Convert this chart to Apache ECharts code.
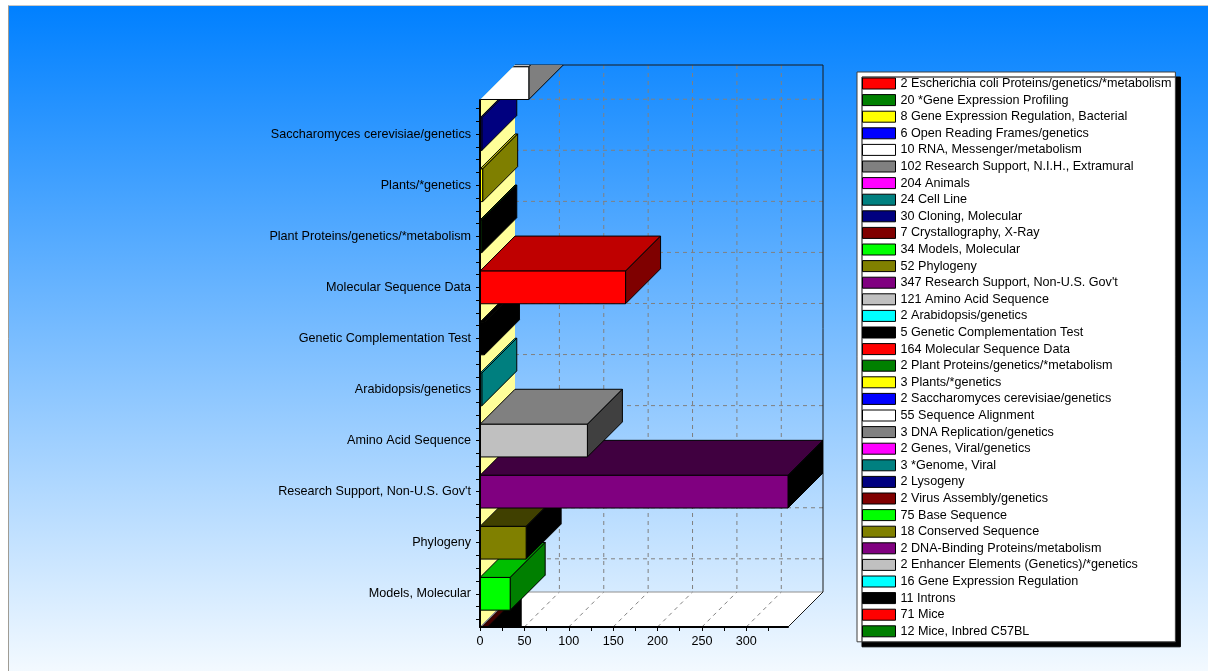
<!DOCTYPE html>
<html>
<head>
<meta charset="utf-8">
<script src="https://cdn.jsdelivr.net/npm/echarts@6/dist/echarts.min.js"></script>
<style>
  html, body { margin: 0; padding: 0; background: #ffffff; }
  #chart { width: 1208px; height: 671px; }
</style>
</head>
<body>
<div id="chart"></div>
<script>
// MeSH terms and their citation counts, in plotting order (bottom to top)
const CATEGORIES = [
  'Escherichia coli Proteins/genetics/*metabolism',
  '*Gene Expression Profiling',
  'Gene Expression Regulation, Bacterial',
  'Open Reading Frames/genetics',
  'RNA, Messenger/metabolism',
  'Research Support, N.I.H., Extramural',
  'Animals',
  'Cell Line',
  'Cloning, Molecular',
  'Crystallography, X-Ray',
  'Models, Molecular',
  'Phylogeny',
  "Research Support, Non-U.S. Gov't",
  'Amino Acid Sequence',
  'Arabidopsis/genetics',
  'Genetic Complementation Test',
  'Molecular Sequence Data',
  'Plant Proteins/genetics/*metabolism',
  'Plants/*genetics',
  'Saccharomyces cerevisiae/genetics',
  'Sequence Alignment',
  'DNA Replication/genetics',
  'Genes, Viral/genetics',
  '*Genome, Viral',
  'Lysogeny',
  'Virus Assembly/genetics',
  'Base Sequence',
  'Conserved Sequence',
  'DNA-Binding Proteins/metabolism',
  'Enhancer Elements (Genetics)/*genetics',
  'Gene Expression Regulation',
  'Introns',
  'Mice',
  'Mice, Inbred C57BL'
];
const VALUES = [2, 20, 8, 6, 10, 102, 204, 24, 30, 7, 34, 52, 347, 121, 2, 5, 164, 2, 3, 2,
                55, 3, 2, 3, 2, 2, 75, 18, 2, 2, 16, 11, 71, 12];
const X_LABELS = [0, 50, 100, 150, 200, 250, 300];

// 16-colour palette, cycled through the series
const PALETTE = ['#ff0000', '#008000', '#ffff00', '#0000ff', '#ffffff', '#808080', '#ff00ff', '#008080',
                 '#000080', '#800000', '#00ff00', '#808000', '#800080', '#c0c0c0', '#00ffff', '#000000'];

// axis window and 3D look
const X_MAX = 347;
const Y_MIN = 9.35, Y_MAX = 19.67;
const DEPTH = 35;        // projected depth offset in px (up and right)
const HALF_BAR = 0.32;   // half bar thickness in category units
const FONT = 'Liberation Sans, Arial, sans-serif';
const FONT_SIZE = 12.6;

function shade(hex, amt) {
  const n = parseInt(hex.slice(1), 16);
  const r = Math.max(0, ((n >> 16) & 255) - amt);
  const g = Math.max(0, ((n >> 8) & 255) - amt);
  const b = Math.max(0, (n & 255) - amt);
  return 'rgb(' + r + ',' + g + ',' + b + ')';
}

const valueByName = {};
CATEGORIES.forEach((c, i) => { valueByName[c] = VALUES[i]; });

function box(api) {
  const a = api.coord([0, Y_MIN]);
  const b = api.coord([X_MAX, Y_MAX]);
  return { x0: a[0], yb: a[1], x1: b[0], yt: b[1] };
}

function boxClip(api) {
  const b = box(api), D = DEPTH;
  return [[b.x0, b.yt], [b.x0 + D, b.yt - D], [b.x1 + D, b.yt - D],
          [b.x1 + D, b.yb - D], [b.x1, b.yb], [b.x0, b.yb]];
}

const gridLine = { stroke: '#808080', lineWidth: 1, lineDash: [4, 4] };

// side wall, floor and back-wall grid
function renderWalls(params, api) {
  const b = box(api), D = DEPTH;
  const kids = [];
  kids.push({ type: 'polygon', shape: { points: [[b.x0, b.yt], [b.x0 + D, b.yt - D], [b.x0 + D, b.yb - D], [b.x0, b.yb]] },
              style: { fill: '#ffff99', stroke: null } });
  kids.push({ type: 'polygon', shape: { points: [[b.x0, b.yb], [b.x0 + D, b.yb - D], [b.x1 + D, b.yb - D], [b.x1, b.yb]] },
              style: { fill: '#ffffff', stroke: '#909090', lineWidth: 1 } });
  X_LABELS.forEach(v => {
    if (v === 0) return;
    const x = api.coord([v, Y_MIN])[0];
    kids.push({ type: 'line', shape: { x1: x + D, y1: b.yt - D, x2: x + D, y2: b.yb - D }, style: gridLine });
    kids.push({ type: 'line', shape: { x1: x, y1: b.yb, x2: x + D, y2: b.yb - D }, style: gridLine });
  });
  for (let k = Math.ceil(Y_MIN); k <= Math.floor(Y_MAX); k++) {
    const y = api.coord([0, k])[1];
    kids.push({ type: 'line', shape: { x1: b.x0 + D, y1: y - D, x2: b.x1 + D, y2: y - D }, style: gridLine });
  }
  kids.push({ type: 'polyline', shape: { points: [[b.x0 + D, b.yt - D], [b.x1 + D, b.yt - D], [b.x1 + D, b.yb - D], [b.x1, b.yb]] },
              style: { fill: null, stroke: '#1a1a1a', lineWidth: 1 } });
  return { type: 'group', children: kids };
}

// one 3D bar: top face, right side, front face
function renderBar(params, api) {
  const v = api.value(0), k = api.value(1), D = DEPTH;
  const pT = api.coord([0, k + HALF_BAR]);
  const pB = api.coord([v, k - HALF_BAR]);
  const xa = pT[0], yT = pT[1], xb = pB[0], yB = pB[1];
  const c = api.visual('color');
  const edge = { stroke: '#000', lineWidth: 1, lineJoin: 'miter' };
  return {
    type: 'group',
    clipPath: { type: 'polygon', shape: { points: boxClip(api) } },
    children: [
      { type: 'polygon', shape: { points: [[xa, yT], [xb, yT], [xb + D, yT - D], [xa + D, yT - D]] },
        style: Object.assign({ fill: shade(c, 0x40) }, edge) },
      { type: 'polygon', shape: { points: [[xb, yT], [xb, yB], [xb + D, yB - D], [xb + D, yT - D]] },
        style: Object.assign({ fill: shade(c, 0x80) }, edge) },
      { type: 'rect', shape: { x: xa, y: yT, width: xb - xa, height: yB - yT },
        style: Object.assign({ fill: c }, edge) }
    ]
  };
}

const yLabelValues = [];
for (let k = Math.ceil(Y_MIN); k <= Math.floor(Y_MAX); k++) yLabelValues.push(k);
const yTickValues = [];
for (let t = Math.ceil(Y_MIN * 4); t <= Math.floor(Y_MAX * 4); t++) yTickValues.push(t / 4);
const xTickValues = [];
for (let t = 0; t <= X_MAX; t += 25) xTickValues.push(t);

const series = [{
  type: 'custom', name: '__walls', coordinateSystem: 'cartesian2d', silent: true,
  data: [[0, Y_MIN]], renderItem: renderWalls, z: 1
}];
CATEGORIES.forEach((name, i) => {
  series.push({
    type: 'custom', name: name, coordinateSystem: 'cartesian2d', silent: true,
    itemStyle: { color: PALETTE[i % PALETTE.length] },
    data: [[VALUES[i], i]], encode: { x: 0, y: 1 },
    renderItem: renderBar, z: 2
  });
});

const chart = echarts.init(document.getElementById('chart'));
chart.setOption({
  backgroundColor: '#ffffff',
  animation: false,
  graphic: [
    { type: 'rect', z: -10, shape: { x: 8.5, y: 5.5, width: 1210, height: 680 },
      style: { fill: new echarts.graphic.LinearGradient(0, 0, 0, 1, [
        { offset: 0, color: '#0080ff' }, { offset: 1, color: '#f8fcff' }]), stroke: null } },
    { type: 'line', z: -9, shape: { x1: 8.5, y1: 5.5, x2: 1208, y2: 5.5 }, style: { stroke: '#c8c8c8', lineWidth: 1 } },
    { type: 'line', z: -9, shape: { x1: 8.5, y1: 5.5, x2: 8.5, y2: 671 }, style: { stroke: '#a09c94', lineWidth: 1 } }
  ],
  grid: { left: 480, top: 100, width: 308, height: 527, containLabel: false },
  xAxis: {
    type: 'value', min: 0, max: X_MAX, z: 10,
    axisLine: { lineStyle: { color: '#000', width: 2 } },
    axisTick: { customValues: xTickValues, length: 4, lineStyle: { color: '#000' } },
    axisLabel: { customValues: X_LABELS, margin: 8, color: '#000', fontSize: FONT_SIZE, fontFamily: FONT },
    splitLine: { show: false }
  },
  yAxis: {
    type: 'value', min: Y_MIN, max: Y_MAX, z: 10,
    axisLine: { show: true, lineStyle: { color: '#000', width: 2 } },
    axisTick: { show: true, customValues: yTickValues, length: 4, lineStyle: { color: '#000' } },
    axisLabel: { customValues: yLabelValues, margin: 9, color: '#000', fontSize: FONT_SIZE, fontFamily: FONT,
                 formatter: v => CATEGORIES[Math.round(v)] },
    splitLine: { show: false }
  },
  legend: {
    orient: 'vertical', left: 857, top: 72,
    data: CATEGORIES, icon: 'rect', itemWidth: 33, itemHeight: 11, itemGap: 3.6,
    selectedMode: false,
    backgroundColor: '#ffffff', borderColor: '#404040', borderWidth: 1,
    padding: [5, 4, 4, 5],
    shadowColor: '#000', shadowBlur: 0, shadowOffsetX: 5, shadowOffsetY: 5,
    itemStyle: { borderColor: '#000', borderWidth: 1 },
    textStyle: { fontFamily: FONT, fontSize: FONT_SIZE, color: '#000', lineHeight: 13 },
    formatter: name => valueByName[name] + ' ' + name
  },
  series: series
});
</script>
</body>
</html>
